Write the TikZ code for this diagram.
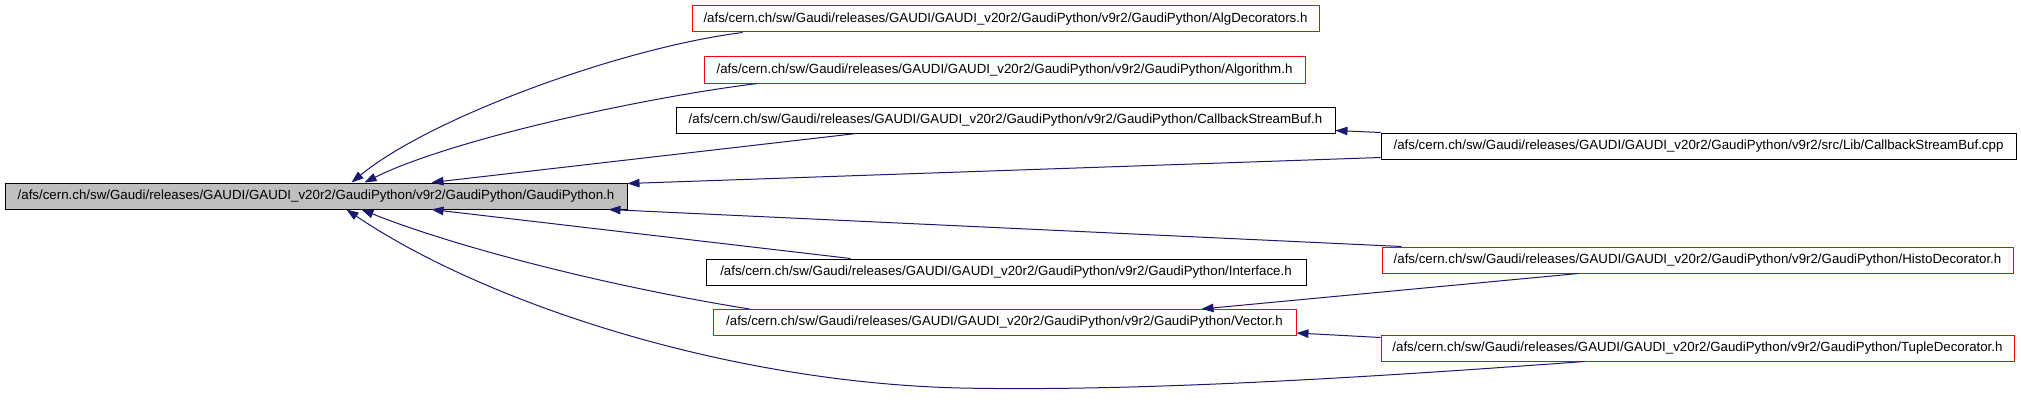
\documentclass[tikz,border=0pt]{standalone}
\usepackage{fontspec}
\setmainfont{Liberation Sans}
\usetikzlibrary{arrows.meta}
\definecolor{edgeblue}{HTML}{191970}
\definecolor{mainfill}{HTML}{BFBFBF}
\definecolor{boxred}{HTML}{FF0000}
\begin{document}
\begin{tikzpicture}[x=1pt,y=-1pt,
  file/.style={draw=black, line width=1pt, minimum height=26pt, inner xsep=0pt, inner ysep=0pt,
    font=\fontsize{13.3}{16}\selectfont, anchor=center},
  redfile/.style={file, draw=boxred},
  mainfile/.style={file, fill=mainfill},
  edge/.style={draw=edgeblue, line width=1pt, -{Triangle[length=12pt,width=8.5pt]}}
]
\useasboundingbox[fill=white] (0,0) rectangle (2021,420);

\node[mainfile, minimum width=622pt] (main) at (316,196) {/afs/cern.ch/sw/Gaudi/releases/GAUDI/GAUDI\_v20r2/GaudiPython/v9r2/GaudiPython/GaudiPython.h};
\node[redfile, minimum width=627pt] (alg) at (1005.5,19) {/afs/cern.ch/sw/Gaudi/releases/GAUDI/GAUDI\_v20r2/GaudiPython/v9r2/GaudiPython/AlgDecorators.h};
\node[redfile, minimum width=601pt] (algo) at (1004.5,70) {/afs/cern.ch/sw/Gaudi/releases/GAUDI/GAUDI\_v20r2/GaudiPython/v9r2/GaudiPython/Algorithm.h};
\node[file, minimum width=659pt] (csbh) at (1005.5,120) {/afs/cern.ch/sw/Gaudi/releases/GAUDI/GAUDI\_v20r2/GaudiPython/v9r2/GaudiPython/CallbackStreamBuf.h};
\node[file, minimum width=635pt] (cpp) at (1698.5,146) {/afs/cern.ch/sw/Gaudi/releases/GAUDI/GAUDI\_v20r2/GaudiPython/v9r2/src/Lib/CallbackStreamBuf.cpp};
\node[file, minimum width=600pt] (iface) at (1006,272) {/afs/cern.ch/sw/Gaudi/releases/GAUDI/GAUDI\_v20r2/GaudiPython/v9r2/GaudiPython/Interface.h};
\node[redfile, minimum width=631pt] (histo) at (1697.5,260) {/afs/cern.ch/sw/Gaudi/releases/GAUDI/GAUDI\_v20r2/GaudiPython/v9r2/GaudiPython/HistoDecorator.h};
\node[redfile, minimum width=583pt] (vector) at (1004.5,322.5) {/afs/cern.ch/sw/Gaudi/releases/GAUDI/GAUDI\_v20r2/GaudiPython/v9r2/GaudiPython/Vector.h};
\node[redfile, minimum width=633pt] (tuple) at (1697.5,348) {/afs/cern.ch/sw/Gaudi/releases/GAUDI/GAUDI\_v20r2/GaudiPython/v9r2/GaudiPython/TupleDecorator.h};

% edges into GaudiPython.h
\draw[edge] ([xshift=51pt]alg.south west) .. controls (620,48) and (430,118) .. ([xshift=347pt]main.north west);
\draw[edge] ([xshift=54pt]algo.south west) .. controls (640,98) and (450,140) .. ([xshift=360pt]main.north west);
\draw[edge] ([xshift=181pt]csbh.south west) -- ([xshift=427pt]main.north west);
\draw[edge] ([yshift=2pt]cpp.south west) -- ([yshift=-1pt]main.north east);
\draw[edge] ([xshift=20pt]histo.north west) -- ([xshift=-19pt]main.south east);
\draw[edge] ([xshift=145pt]iface.north west) -- ([xshift=427pt]main.south west);
\draw[edge] ([xshift=37pt]vector.north west) .. controls (600,285) and (450,245) .. ([xshift=357pt]main.south west);
\draw[edge] ([xshift=204pt]tuple.south west) .. controls (1400,375) and (1150,392) .. (960,388)
  .. controls (720,382) and (480,300) .. ([xshift=342pt]main.south west);

% other edges
\draw[edge] (cpp.north west) -- ([yshift=3pt]csbh.south east);
\draw[edge] ([xshift=197pt]histo.south west) -- ([xshift=489pt]vector.north west);
\draw[edge] ([yshift=-3pt]tuple.north west) -- ([yshift=3pt]vector.south east);
\end{tikzpicture}
\end{document}
